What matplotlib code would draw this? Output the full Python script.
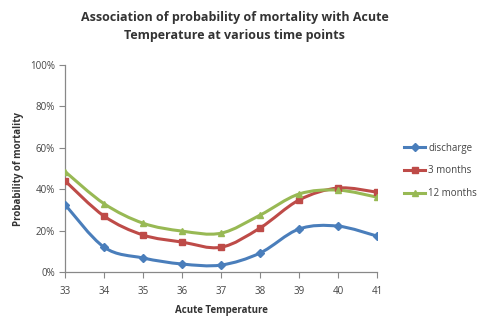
import numpy as np
import matplotlib
matplotlib.use("Agg")
import matplotlib.pyplot as plt
from matplotlib.path import Path
from matplotlib.patches import PathPatch
from matplotlib.lines import Line2D
from matplotlib.ticker import PercentFormatter

plt.rcParams['font.family'] = ['Open Sans', 'DejaVu Sans']

temps = [33, 34, 35, 36, 37, 38, 39, 40, 41]
discharge = [32.5, 12, 6.8, 3.9, 3.4, 9.2, 20.8, 22.2, 17.4]
months_3 = [44, 27, 17.9, 14.5, 12, 21.3, 34.8, 40.6, 38.6]
months_12 = [48.5, 33, 23.6, 19.8, 18.8, 27.5, 37.7, 39.6, 36.2]

series = [
    ("discharge", discharge, "#4A7EBB", "D", 4),
    ("3 months", months_3, "#BE4B48", "s", 5),
    ("12 months", months_12, "#98B954", "^", 5),
]


def smooth_path(x, y):
    # Excel-style smoothed line: Catmull-Rom segments as cubic beziers
    x = np.asarray(x, float)
    y = np.asarray(y, float)
    n = len(x)
    verts = [(x[0], y[0])]
    codes = [Path.MOVETO]
    for i in range(n - 1):
        p0 = np.array([x[max(i - 1, 0)], y[max(i - 1, 0)]])
        p1 = np.array([x[i], y[i]])
        p2 = np.array([x[i + 1], y[i + 1]])
        p3 = np.array([x[min(i + 2, n - 1)], y[min(i + 2, n - 1)]])
        c1 = p1 + (p2 - p0) / 6.0
        c2 = p2 - (p3 - p1) / 6.0
        verts += [tuple(c1), tuple(c2), tuple(p2)]
        codes += [Path.CURVE4] * 3
    return Path(verts, codes)


fig = plt.figure(figsize=(4.94, 3.22), dpi=100)
ax = fig.add_axes([0.132, 0.155, 0.631, 0.643])

handles = []
for name, vals, col, mk, ms in series:
    ax.add_patch(PathPatch(smooth_path(temps, vals), fill=False,
                           edgecolor=col, lw=2.2, zorder=2))
    ax.plot(temps, vals, ls='none', marker=mk, ms=ms, color=col, zorder=3)
    handles.append(Line2D([], [], color=col, lw=2.2, marker=mk, ms=ms))

ax.set_xlim(33, 41)
ax.set_ylim(0, 100)
ax.set_xticks(temps)
ax.set_yticks(range(0, 101, 20))
ax.yaxis.set_major_formatter(PercentFormatter(decimals=0))

for s in ['top', 'right']:
    ax.spines[s].set_visible(False)
for s in ['left', 'bottom']:
    ax.spines[s].set_color('#888888')
    ax.spines[s].set_linewidth(0.9)
ax.tick_params(colors='#888888', labelcolor='#444444', labelsize=7, length=4, width=0.8)
ax.tick_params(axis='x', pad=6)

ax.set_xlabel("Acute Temperature", fontsize=7, fontweight='bold', color='#333333', labelpad=6)
ax.set_ylabel("Probability of mortality", fontsize=7, fontweight='bold', color='#333333', labelpad=4)

fig.text(0.475, 0.965, "Association of probability of mortality with Acute\nTemperature at various time points",
         ha='center', va='top', fontsize=9, fontweight='bold', color='#333333', linespacing=1.45)

leg = fig.legend(handles, [s[0] for s in series], loc='upper left', bbox_to_anchor=(0.8, 0.584),
                 frameon=False, fontsize=7, handlelength=2.2, labelspacing=1.2, handletextpad=0.3,
                 labelcolor='#444444')

fig.savefig("out.png", dpi=100)
